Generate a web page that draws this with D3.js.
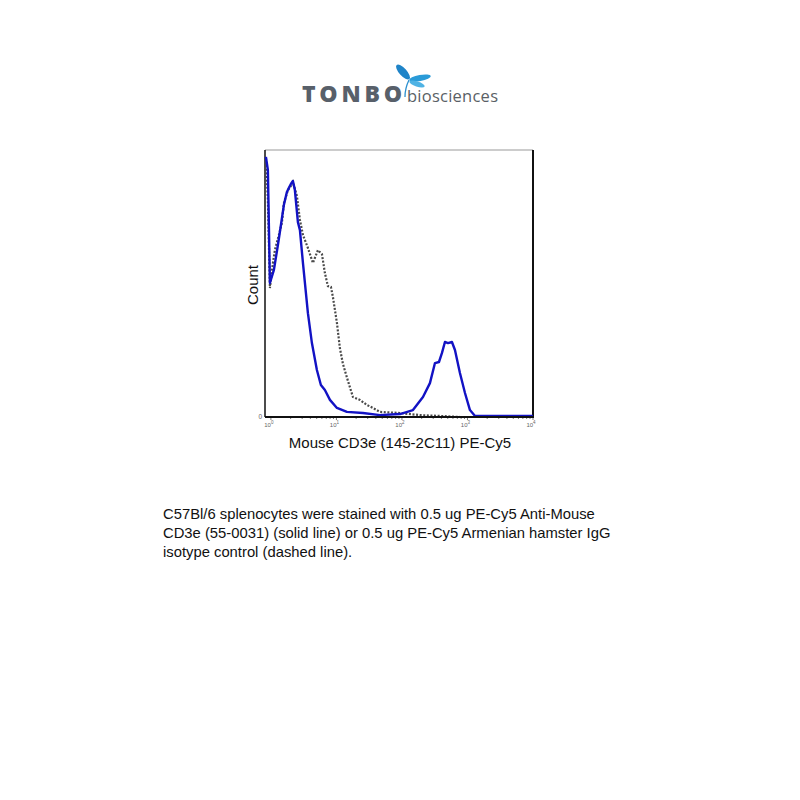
<html>
<head>
<script src="https://d3js.org/d3.v7.min.js"></script>
<style>
  body { margin: 0; background: #fff; }
  text { font-family: "Liberation Sans", Arial, sans-serif; }
</style>
</head>
<body>
<svg id="chart" width="800" height="800"></svg>
<script>
// log10 of fluorescence, and count (% of y range)
const blueLog   = [-0.076,-0.046,-0.015,0.046,0.107,0.153,0.198,0.244,0.275,0.305,0.336,0.366,0.412,0.443,0.489,0.565,0.626,0.702,0.763,0.824,0.901,1.008,1.160,1.405,1.664,1.969,2.168,2.321,2.427,2.504,2.565,2.611,2.656,2.702,2.763,2.809,2.885,2.962,3.038,3.115,4.0];
const blueCount = [97.4,92.5,50.2,55.1,64.4,71.9,79.4,84.3,85.8,87.3,88.4,85.0,73.0,70.0,57.7,38.9,27.7,17.6,12.0,10.1,6.4,3.4,1.9,1.5,0.7,1.1,2.6,7.5,12.7,20.2,20.6,24.0,28.1,27.7,28.1,25.1,16.5,9.0,2.6,0.4,0.4];

const isoLog   = [-0.076,-0.046,-0.015,0.031,0.061,0.122,0.168,0.198,0.260,0.305,0.336,0.397,0.443,0.489,0.565,0.641,0.718,0.779,0.824,0.870,0.916,0.947,1.008,1.053,1.099,1.176,1.252,1.359,1.466,1.557,1.664,1.969,2.275,2.580,2.885,4.0];
const isoCount = [97.0,81.3,48.3,57.7,62.5,68.2,72.7,80.1,85.0,86.5,88.0,82.8,73.8,68.2,63.3,57.7,62.5,61.0,53.9,49.0,48.7,44.9,35.2,25.8,19.9,13.5,7.5,6.4,4.5,3.4,1.9,1.5,0.7,0.4,0,0];

const xTickExp = [0, 1, 2, 3, 4];
const xLabel = "Mouse CD3e (145-2C11) PE-Cy5";
const yLabel = "Count";
const caption = [
  "C57Bl/6 splenocytes were stained with 0.5 ug PE-Cy5 Anti-Mouse",
  "CD3e (55-0031) (solid line) or 0.5 ug PE-Cy5 Armenian hamster IgG",
  "isotype control (dashed line)."
];

const svg = d3.select("#chart");
const frame = { left: 265, right: 533, top: 150, bottom: 417 };

const x = d3.scaleLog().domain([Math.pow(10, -0.09), 1e4]).range([frame.left, frame.right]);
const y = d3.scaleLinear().domain([0, 100]).range([frame.bottom, frame.top]);

// logo
const logo = svg.append("g");
logo.append("text").attr("x", 302).attr("y", 102)
    .style("font-family", "'Open Sans', sans-serif").style("font-weight", "800")
    .style("font-size", "23px").attr("fill", "#58606a")
    .attr("textLength", 100).attr("lengthAdjust", "spacing")
    .text("TONBO");
logo.append("text").attr("x", 407).attr("y", 102)
    .style("font-family", "'Open Sans', sans-serif")
    .style("font-size", "16.5px").attr("fill", "#5a5f66")
    .attr("textLength", 91)
    .text("biosciences");
// dragonfly
logo.append("path").attr("d", "M405,97 Q405,88 409,80")
    .attr("fill", "none").attr("stroke", "#2a8fcf").attr("stroke-width", 1.3);
logo.append("ellipse").attr("cx", 403).attr("cy", 72).attr("rx", 9.5).attr("ry", 3.8)
    .attr("transform", "rotate(48 403 72)").attr("fill", "#1f84c8");
logo.append("ellipse").attr("cx", 420).attr("cy", 78).attr("rx", 11).attr("ry", 3)
    .attr("transform", "rotate(-10 420 78)").attr("fill", "#2a9bd8");
logo.append("ellipse").attr("cx", 417).attr("cy", 84).attr("rx", 8).attr("ry", 2.5)
    .attr("transform", "rotate(18 417 84)").attr("fill", "#4fb3e4");

// frame
svg.append("line").attr("x1", frame.left).attr("x2", frame.right).attr("y1", frame.top).attr("y2", frame.top)
   .attr("stroke", "#999").attr("stroke-width", 1);
svg.append("line").attr("x1", frame.left).attr("x2", frame.left).attr("y1", frame.top).attr("y2", frame.bottom)
   .attr("stroke", "#111").attr("stroke-width", 1.5);
svg.append("line").attr("x1", frame.right).attr("x2", frame.right).attr("y1", frame.top).attr("y2", frame.bottom)
   .attr("stroke", "#111").attr("stroke-width", 2);

// curves
const line = d3.line().x(d => x(Math.pow(10, d[0]))).y(d => y(d[1]));
svg.append("path").datum(d3.zip(isoLog, isoCount))
   .attr("d", line).attr("fill", "none").attr("stroke", "#4a4a4a")
   .attr("stroke-width", 2.2).attr("stroke-dasharray", "2,1.6");
svg.append("path").datum(d3.zip(blueLog, blueCount))
   .attr("d", line).attr("fill", "none").attr("stroke", "#1212c4")
   .attr("stroke-width", 2.4).attr("stroke-linejoin", "round");

// x axis
const minor = [];
for (let e = 0; e < 4; e++) for (let m = 1; m < 10; m++) minor.push(m * Math.pow(10, e));
minor.push(1e4);
svg.append("g").selectAll("line").data(minor).join("line")
   .attr("x1", d => x(d)).attr("x2", d => x(d))
   .attr("y1", frame.bottom).attr("y2", d => frame.bottom + (Math.log10(d) % 1 === 0 ? 3 : 2))
   .attr("stroke", "#222").attr("stroke-width", 0.6);
svg.append("line").attr("x1", frame.left).attr("x2", frame.right + 1).attr("y1", frame.bottom).attr("y2", frame.bottom)
   .attr("stroke", "#111").attr("stroke-width", 2.2);

const tl = svg.append("g").selectAll("text").data(xTickExp).join("text")
   .attr("x", d => x(Math.pow(10, d)) - 2).attr("y", 427)
   .attr("text-anchor", "middle").attr("fill", "#666").style("font-size", "6px");
tl.append("tspan").text("10");
tl.append("tspan").attr("dy", -3).style("font-size", "4.5px").text(d => d);

// y axis tick
svg.append("text").attr("x", 262).attr("y", 419).attr("text-anchor", "end")
   .attr("fill", "#666").style("font-size", "6.5px").text("0");

// axis labels
svg.append("text").attr("x", 400).attr("y", 448).attr("text-anchor", "middle")
   .attr("fill", "#111").style("font-size", "15px").text(xLabel);
svg.append("text").attr("transform", "translate(258,285) rotate(-90)").attr("text-anchor", "middle")
   .attr("fill", "#111").style("font-size", "15px").text(yLabel);

// caption
svg.append("g").selectAll("text").data(caption).join("text")
   .attr("x", 163).attr("y", (d, i) => 519 + i * 19)
   .attr("fill", "#111").style("font-size", "14.8px").text(d => d);
</script>
</body>
</html>
